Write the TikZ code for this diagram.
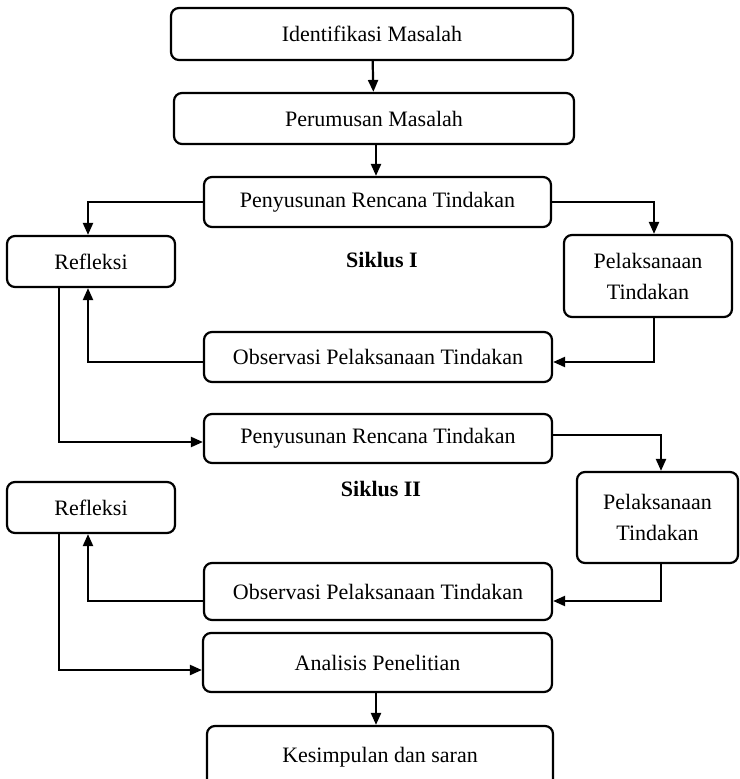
\documentclass[tikz,border=0pt]{standalone}
\usepackage{fontspec}
\setmainfont{Liberation Serif}
\usetikzlibrary{arrows.meta}

\begin{document}
\begin{tikzpicture}[
    x=0.5pt, y=-0.5pt,
    line cap=round,
    every node/.style={font=\fontsize{11}{15.5}\selectfont},
    kotak/.style={draw, line width=1.1pt, rounded corners=4pt, align=center, inner sep=0pt},
    panah/.style={-{Triangle[length=6pt,width=5pt]}, line width=1.1pt},
    judul/.style={font=\fontsize{11}{15.5}\selectfont\bfseries}
]

\useasboundingbox (0,0) rectangle (739,779);

% Tahap awal
\node[kotak, minimum width=201pt, minimum height=26pt] (identifikasi) at (372,34) {Identifikasi Masalah};
\node[kotak, minimum width=200pt, minimum height=25.5pt] (perumusan) at (374,118.5) {Perumusan Masalah};

% Siklus I
\node[kotak, minimum width=173.5pt, minimum height=25pt] (rencana1) at (377.5,202) {Penyusunan Rencana Tindakan};
\node[kotak, minimum width=84pt, minimum height=25.5pt] (refleksi1) at (91,261.5) {Refleksi};
\node[kotak, minimum width=84pt, minimum height=41pt] (pelaksanaan1) at (648,276) {Pelaksanaan\\Tindakan};
\node[kotak, minimum width=174pt, minimum height=25pt] (observasi1) at (378,357) {Observasi Pelaksanaan Tindakan};
\node[judul] (siklus1) at (382,260) {Siklus I};

% Siklus II
\node[kotak, minimum width=174pt, minimum height=24.5pt] (rencana2) at (378,438.5) {Penyusunan Rencana Tindakan};
\node[kotak, minimum width=84pt, minimum height=25.5pt] (refleksi2) at (91,507.5) {Refleksi};
\node[kotak, minimum width=80.5pt, minimum height=45.5pt] (pelaksanaan2) at (657.5,517.5) {Pelaksanaan\\Tindakan};
\node[kotak, minimum width=174pt, minimum height=28.5pt] (observasi2) at (378,591.5) {Observasi Pelaksanaan Tindakan};
\node[judul] (siklus2) at (381,489) {Siklus II};

% Tahap akhir
\node[kotak, minimum width=174.5pt, minimum height=29.5pt] (analisis) at (377.5,662.5) {Analisis Penelitian};
\node[kotak, minimum width=173pt, minimum height=31pt] (kesimpulan) at (380,757) {Kesimpulan dan saran};

% Alur
\draw[panah] (identifikasi) -- (perumusan);
\draw[panah] (perumusan.south -| 376,0) -- (rencana1.north -| 376,0);

\draw[panah] (rencana1.west) -| ([xshift=-1.5pt]refleksi1.north);
\draw[panah] (rencana1.east) -| ([xshift=3pt]pelaksanaan1.north);
\draw[panah] ([xshift=3pt]pelaksanaan1.south) |- ([yshift=-2.5pt]observasi1.east);
\draw[panah] ([yshift=-2.5pt]observasi1.west) -| ([xshift=-1.5pt]refleksi1.south);
\draw[panah] ([xshift=-16pt]refleksi1.south) |- ([yshift=-1.75pt]rencana2.west);

\draw[panah] ([yshift=1.75pt]rencana2.east) -| ([xshift=1.75pt]pelaksanaan2.north);
\draw[panah] ([xshift=1.75pt]pelaksanaan2.south) |- ([yshift=-4.75pt]observasi2.east);
\draw[panah] ([yshift=-4.75pt]observasi2.west) -| ([xshift=-1.5pt]refleksi2.south);
\draw[panah] ([xshift=-16pt]refleksi2.south) |- ([yshift=-3.75pt]analisis.west);

\draw[panah] (analisis.south -| 376,0) -- (kesimpulan.north -| 376,0);

\end{tikzpicture}
\end{document}
